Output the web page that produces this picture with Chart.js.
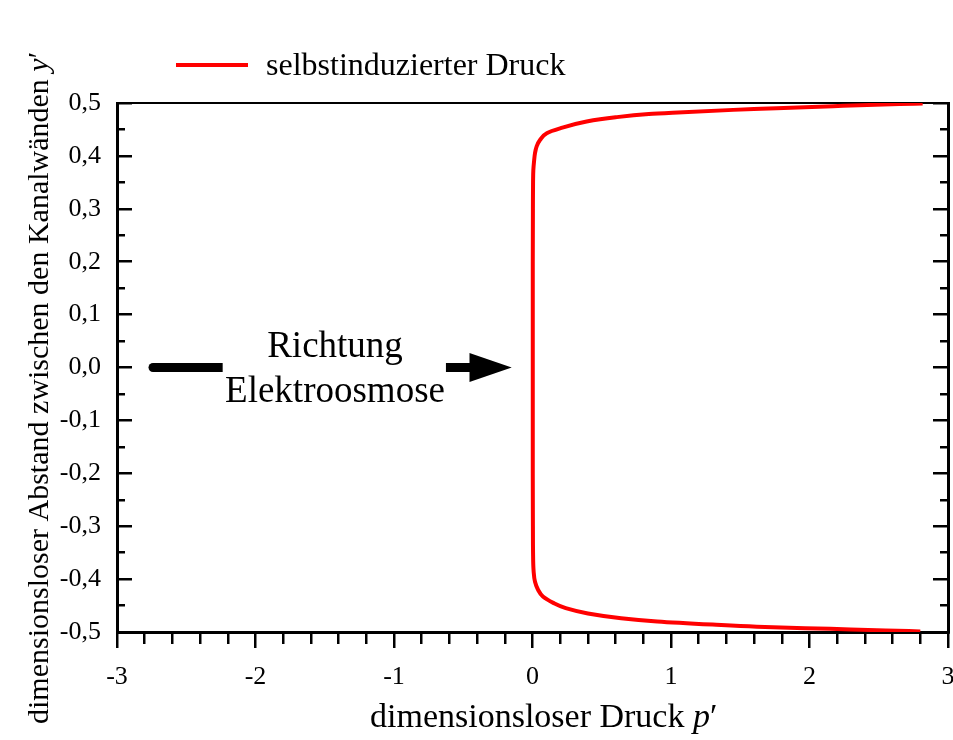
<!DOCTYPE html>
<html><head><meta charset="utf-8">
<script src="https://cdn.jsdelivr.net/npm/chart.js@4.4.1/dist/chart.umd.min.js"></script>
<style>html,body{margin:0;padding:0;background:#fff;}#wrap{width:953px;height:740px;}</style>
</head><body><div id="wrap"><canvas id="c" width="953" height="740"></canvas></div>
<script>
// ---- data ----
const yPositions = [-0.499,-0.497,-0.494,-0.490,-0.486,-0.480,-0.474,-0.465,-0.455,-0.445,-0.433,-0.420,-0.405,-0.385,-0.35,-0.3,-0.2,-0.1,0,0.1,0.2,0.3,0.35,0.373,0.392,0.405,0.418,0.430,0.443,0.452,0.465,0.473,0.479,0.482,0.487,0.489,0.494,0.498,0.499];
const pressureValues = [2.80,2.55,2.15,1.62,1.30,0.90,0.64,0.40,0.24,0.15,0.075,0.04,0.018,0.008,0.004,0.003,0.002,0.002,0.002,0.002,0.002,0.003,0.004,0.006,0.012,0.018,0.03,0.054,0.103,0.199,0.391,0.60,0.84,1.05,1.45,1.65,2.17,2.65,2.817];
const seriesLabel = 'selbstinduzierter Druck';
const xTickLabels = ['-3','-2','-1','0','1','2','3'];
const yTickLabels = ['-0,5','-0,4','-0,3','-0,2','-0,1','0,0','0,1','0,2','0,3','0,4','0,5'];
const xTitleParts = [['dimensionsloser Druck ', false], ['p', true], ['\u2032', false]];
const yTitleParts = [['dimensionsloser Abstand zwischen den Kanalw\u00e4nden ', false], ['y', true], ['\u2032', false]];
const annotationLines = ['Richtung', 'Elektroosmose'];

const FONT = '"Liberation Serif", "Times New Roman", serif';
const BLACK = '#000';
const RED = '#ff0000';

function stepTicks(min, max, step) {
  const out = []; const n = Math.round((max - min) / step);
  for (let i = 0; i <= n; i++) out.push({value: Math.round((min + i * step) * 1000) / 1000});
  return out;
}
function isMajor(v, unit) { const k = v / unit; return Math.abs(k - Math.round(k)) < 1e-6; }

const TL_LEFT = -15, TL_BOTTOM = 16;

const decorPlugin = {
  id: 'decor',
  beforeDraw(chart) {
    const ctx = chart.ctx; ctx.save(); ctx.fillStyle = '#fff'; ctx.fillRect(0, 0, chart.width, chart.height); ctx.restore();
  },
  afterDraw(chart) {
    const ctx = chart.ctx;
    const xs = chart.scales.x, ys = chart.scales.y;
    ctx.save();
    ctx.fillStyle = BLACK;
    // legend
    ctx.strokeStyle = RED; ctx.lineWidth = 4; ctx.lineCap = 'butt';
    ctx.beginPath(); ctx.moveTo(176, 65); ctx.lineTo(248, 65); ctx.stroke();
    ctx.font = '32px ' + FONT; ctx.textBaseline = 'alphabetic'; ctx.textAlign = 'left';
    ctx.fillText(seriesLabel, 266, 75);
    // x title
    drawParts(ctx, xTitleParts, 370, 727, 34);
    // y title
    ctx.save(); ctx.translate(48, 724); ctx.rotate(-Math.PI / 2);
    drawParts(ctx, yTitleParts, 0, 0, 30);
    ctx.restore();
    // annotation text
    ctx.font = '37px ' + FONT; ctx.textAlign = 'center';
    const cx = xs.getPixelForValue(-1.426);
    ctx.fillText(annotationLines[0], cx, ys.getPixelForValue(0.0204));
    ctx.fillText(annotationLines[1], cx, ys.getPixelForValue(-0.0646));
    // arrow
    const y0 = ys.getPixelForValue(0);
    const l1 = xs.getPixelForValue(-2.74), l2 = xs.getPixelForValue(-2.237);
    ctx.lineWidth = 9; ctx.strokeStyle = BLACK; ctx.lineCap = 'butt';
    ctx.beginPath(); ctx.moveTo(l1, y0); ctx.lineTo(l2, y0); ctx.stroke();
    ctx.beginPath(); ctx.arc(l1, y0, 4.5, 0, Math.PI * 2); ctx.fill();
    const r1 = xs.getPixelForValue(-0.625), r2 = xs.getPixelForValue(-0.455), tip = xs.getPixelForValue(-0.15);
    ctx.beginPath(); ctx.moveTo(r1, y0); ctx.lineTo(r2 + 1, y0); ctx.stroke();
    const hh = 14.5;
    ctx.beginPath(); ctx.moveTo(r2, y0 - hh); ctx.lineTo(tip, y0); ctx.lineTo(r2, y0 + hh); ctx.closePath(); ctx.fill();
    ctx.restore();
  }
};
function drawParts(ctx, parts, x, y, size) {
  ctx.textAlign = 'left'; ctx.textBaseline = 'alphabetic'; ctx.fillStyle = BLACK;
  let cx = x;
  for (const [t, it] of parts) {
    ctx.font = (it ? 'italic ' : '') + size + 'px ' + FONT;
    ctx.fillText(t, cx, y);
    cx += ctx.measureText(t).width;
  }
}

const points = pressureValues.map((p, i) => ({x: p, y: yPositions[i]}));

new Chart(document.getElementById('c'), {
  type: 'line',
  data: { datasets: [{
    label: seriesLabel, data: points, borderColor: RED, backgroundColor: RED,
    borderWidth: 4, pointRadius: 0, fill: false, cubicInterpolationMode: 'monotone', indexAxis: 'y'
  }]},
  options: {
    indexAxis: 'y',
    responsive: false, animation: false, devicePixelRatio: 1,
    layout: { padding: {top: 103, right: 5, bottom: 0, left: 0} },
    plugins: { legend: {display: false}, tooltip: {enabled: false} },
    scales: {
      x: {
        type: 'linear', position: 'bottom', min: -3, max: 3,
        afterBuildTicks: s => { s.ticks = stepTicks(-3, 3, 0.2); },
        afterFit: s => { s.height = 108; s.paddingLeft = 0; s.paddingRight = 0; },
        border: {display: true, color: BLACK, width: 3},
        grid: {display: true, drawOnChartArea: false, drawTicks: true, tickLength: TL_BOTTOM, tickColor: BLACK, lineWidth: 2.5,
          tickBorderDash: c => isMajor(c.tick.value, 1) ? [] : [10, 100], tickBorderDashOffset: 0},
        ticks: { autoSkip: false, maxRotation: 0, padding: 14, color: BLACK, font: {family: FONT, size: 26},
          callback: v => isMajor(v, 1) ? xTickLabels[Math.round(v) + 3] : '' }
      },
      x2: {
        type: 'linear', position: 'top', min: -3, max: 3,
        afterFit: s => { s.height = 0; s.paddingLeft = 0; s.paddingRight = 0; },
        border: {display: true, color: BLACK, width: 2},
        grid: {display: false}, ticks: {display: false}
      },
      y: {
        type: 'linear', position: 'left', min: -0.5, max: 0.5,
        afterBuildTicks: s => { s.ticks = stepTicks(-0.5, 0.5, 0.05); },
        afterFit: s => { s.width = 117; s.paddingTop = 0; s.paddingBottom = 0; },
        border: {display: true, color: BLACK, width: 3},
        grid: {display: true, drawOnChartArea: false, drawTicks: true, tickLength: TL_LEFT, tickColor: BLACK, lineWidth: 2.5,
          tickBorderDash: c => isMajor(c.tick.value, 0.1) ? [] : [10, 7], tickBorderDashOffset: c => isMajor(c.tick.value, 0.1) ? 0 : 10},
        ticks: { autoSkip: false, padding: 31, color: BLACK, font: {family: FONT, size: 26},
          callback: v => isMajor(v, 0.1) ? yTickLabels[Math.round(v * 10) + 5] : '' }
      },
      y2: {
        type: 'linear', position: 'right', min: -0.5, max: 0.5,
        afterBuildTicks: s => { s.ticks = stepTicks(-0.5, 0.5, 0.05); },
        afterFit: s => { s.width = 0; s.paddingTop = 0; s.paddingBottom = 0; },
        border: {display: true, color: BLACK, width: 3},
        grid: {display: true, drawOnChartArea: false, drawTicks: true, tickLength: TL_LEFT, tickColor: BLACK, lineWidth: 2.5,
          tickBorderDash: c => isMajor(c.tick.value, 0.1) ? [] : [10, 100], tickBorderDashOffset: 0},
        ticks: {display: false}
      }
    }
  },
  plugins: [decorPlugin]
});
</script></body></html>
